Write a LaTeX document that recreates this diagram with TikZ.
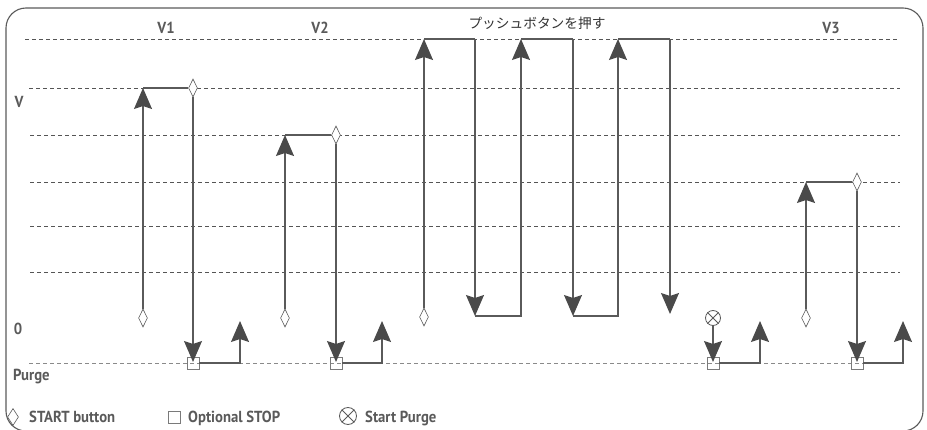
\documentclass[tikz,border=0pt]{standalone}
\usepackage{fontspec}
\newfontfamily\labfont{PT Sans Bold}[FakeStretch=0.92]
\newfontfamily\jpfont{Noto Sans CJK JP}
\usetikzlibrary{arrows.meta,shapes.geometric}
\definecolor{ln}{HTML}{5A5A5A}
\definecolor{tipc}{HTML}{4A4A4A}
\definecolor{sq}{HTML}{7A7A7A}
\definecolor{gridc}{HTML}{555555}
\definecolor{gridp}{HTML}{8A8A8A}
\tikzset{
  frame/.style={draw=ln, line width=1.1pt, rounded corners=20pt},
  gridl/.style={draw=gridc, line width=0.7pt, dash pattern=on 4pt off 3pt},
  gridlp/.style={draw=gridp, line width=0.8pt, dash pattern=on 4pt off 3pt},
  seg/.style={draw=ln, line width=1.4pt},
  arw/.style={-{Stealth[length=21pt,width=18pt,inset=3pt,color=tipc]}},
  startd/.style={diamond, draw=ln, line width=0.6pt, fill=white, inner sep=0pt, minimum width=9pt, minimum height=18pt},
  stopsq/.style={rectangle, draw=sq, line width=0.8pt, inner sep=0pt, minimum size=12pt},
  purgec/.style={circle, draw=ln, line width=0.8pt, fill=white, inner sep=0pt, minimum size=15pt},
  lab/.style={text=ln, font=\labfont\fontsize{16}{19}\selectfont, inner sep=0pt},
}
\begin{document}
\begin{tikzpicture}[x=1pt,y=-1pt]
\useasboundingbox (0,0) rectangle (927,430);
% frame
\draw[frame] (6,8) rectangle (923,431);
% grid
\draw[gridl] (25,39) -- (897,39);
\draw[gridl] (29,88) -- (900,88);
\draw[gridl] (30,135) -- (900,135);
\draw[gridl] (30,182) -- (900,182);
\draw[gridl] (30,226) -- (900,226);
\draw[gridl] (30,272) -- (900,272);
\draw[gridlp] (29,363) -- (903,363);
% labels
\node[lab] (lv1) at (166,28) {V1};
\node[lab] (lv2) at (320,28) {V2};
\node[lab] (lv3) at (831,28) {V3};
\node[text=black!80, inner sep=0pt, font=\jpfont\fontsize{13.7}{16}\selectfont] (lpb) at (537,23) {プッシュボタンを押す};
\node[lab] (lV) at (19,102) {V};
\node[lab] (l0) at (18,329) {0};
\node[lab, anchor=base west] (lpurge) at (13,381) {Purge};
% legend
\node[startd, minimum width=11pt, minimum height=17pt] (gd) at (13,417) {};
\node[lab, anchor=base west] (gdt) at (29,422) {START button};
\node[stopsq, minimum size=12pt] (gs) at (174,417) {};
\node[lab, anchor=base west] (gst) at (188,422) {Optional STOP};
\node[purgec, minimum size=17pt] (gp) at (348,416) {};
\draw[ln, line width=0.8pt] (gp.north west) -- (gp.south east) (gp.north east) -- (gp.south west);
\node[lab, anchor=base west] (gpt) at (365,422) {Start Purge};

% ===== V1 =====
\node[stopsq] (q1) at (193,363) {};
\node[startd] (s1) at (143,318) {};
\node[startd] (t1) at (193,88) {};
\coordinate (c1) at (143,88);
\coordinate (u1) at (240,363);
\coordinate (v1) at (240,321);
\draw[seg,arw] (s1.north) -- (c1);
\draw[seg] (c1) -- (t1.west);
\draw[seg,arw,shorten >=1pt] (t1.south) -- (q1.center);
\draw[seg,arw] (q1.east) -- (u1) -- (v1);

% ===== V2 =====
\node[stopsq] (q2) at (336,363) {};
\node[startd] (s2) at (285,318) {};
\node[startd] (t2) at (336,135) {};
\coordinate (c2) at (285,135);
\coordinate (u2) at (382,363);
\coordinate (v2) at (382,321);
\draw[seg,arw] (s2.north) -- (c2);
\draw[seg] (c2) -- (t2.west);
\draw[seg,arw,shorten >=1pt] (t2.south) -- (q2.center);
\draw[seg,arw] (q2.east) -- (u2) -- (v2);

% ===== push button =====
\node[startd] (s3) at (424,317) {};
\coordinate (pa) at (424,39);
\coordinate (pb) at (475,39);
\coordinate (pbb) at (475,316);
\coordinate (pcb) at (521,316);
\coordinate (pc) at (521,39);
\coordinate (pd) at (573,39);
\coordinate (pdb) at (573,316);
\coordinate (peb) at (618,316);
\coordinate (pe) at (618,39);
\coordinate (pf) at (670,39);
\coordinate (pfb) at (670,314);
\draw[seg,arw] (s3.north) -- (pa);
\draw[seg] (pa) -- (pb);
\draw[seg,arw] (pb) -- (pbb);
\draw[seg,arw] (pbb) -- (pcb) -- (pc);
\draw[seg] (pc) -- (pd);
\draw[seg,arw] (pd) -- (pdb);
\draw[seg,arw] (pdb) -- (peb) -- (pe);
\draw[seg] (pe) -- (pf);
\draw[seg,arw] (pf) -- (pfb);

% ===== start purge =====
\node[stopsq] (q4) at (713,363) {};
\node[purgec] (sp) at (713,318) {};
\draw[ln, line width=0.8pt] (sp.north west) -- (sp.south east) (sp.north east) -- (sp.south west);
\coordinate (u4) at (760,363);
\coordinate (v4) at (760,321);
\draw[seg,arw,shorten >=1pt] (sp.south) -- (q4.center);
\draw[seg,arw] (q4.east) -- (u4) -- (v4);

% ===== V3 =====
\node[stopsq] (q5) at (857,363) {};
\node[startd] (s5) at (806,318) {};
\node[startd] (t5) at (857,182) {};
\coordinate (c5) at (806,182);
\coordinate (u5) at (903,363);
\coordinate (v5) at (903,321);
\draw[seg,arw] (s5.north) -- (c5);
\draw[seg] (c5) -- (t5.west);
\draw[seg,arw,shorten >=1pt] (t5.south) -- (q5.center);
\draw[seg,arw] (q5.east) -- (u5) -- (v5);
\end{tikzpicture}
\end{document}
